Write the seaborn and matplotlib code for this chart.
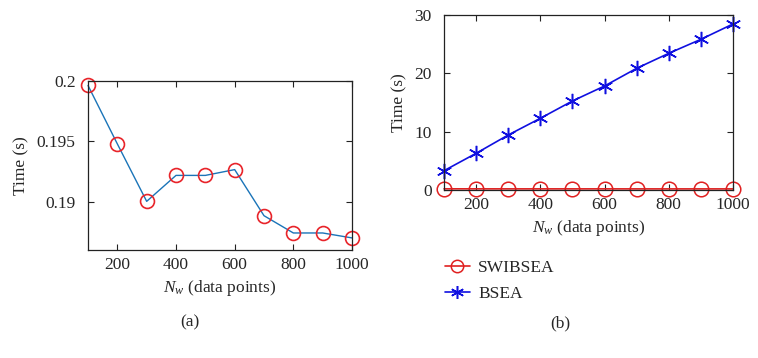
import matplotlib
matplotlib.use("Agg")
import matplotlib.pyplot as plt
import seaborn as sns
import numpy as np
import pandas as pd

n_w = [100, 200, 300, 400, 500, 600, 700, 800, 900, 1000]
time_a = [0.19963, 0.19479, 0.19003, 0.19218, 0.19218, 0.19266, 0.18884, 0.18741, 0.18741, 0.18700]
swibsea = [0.19963, 0.19479, 0.19003, 0.19218, 0.19218, 0.19266, 0.18884, 0.18741, 0.18741, 0.18700]
bsea = [3.31, 6.29, 9.43, 12.29, 15.26, 17.83, 20.86, 23.43, 25.83, 28.46]
xticks = [200, 400, 600, 800, 1000]
yticks_a = [0.19, 0.195, 0.2]
ytick_labels_a = ["0.19", "0.195", "0.2"]
yticks_b = [0, 10, 20, 30]

sns.set_style("ticks")
plt.rcParams['font.family'] = ['Liberation Serif', 'DejaVu Serif']
plt.rcParams['mathtext.fontset'] = 'custom'
plt.rcParams['mathtext.it'] = 'Liberation Serif:italic'
plt.rcParams['mathtext.rm'] = 'Liberation Serif'
FS = 12.5

fig = plt.figure(figsize=(7.58, 3.58), dpi=100)
ax1 = fig.add_axes([0.1161, 0.3017, 0.4644 - 0.1161, 0.7737 - 0.3017])
ax2 = fig.add_axes([0.5858, 0.4693, 0.967 - 0.5858, 0.9581 - 0.4693])

red = '#e8242a'
df_a = pd.DataFrame({'x': n_w, 'y': time_a})
sns.lineplot(data=df_a, x='x', y='y', ax=ax1, color='#1a74b8', lw=1.0,
             marker='o', markersize=10, markerfacecolor='none',
             markeredgecolor=red, markeredgewidth=1.2)
for l in ax1.lines:
    l.set_clip_on(False)
ax1.set_xlim(100, 1000)
ax1.set_ylim(0.186, 0.2)
ax1.set_xticks(xticks)
ax1.set_yticks(yticks_a)
ax1.set_yticklabels(ytick_labels_a)

df_b = pd.DataFrame({'x': n_w + n_w, 'y': swibsea + bsea,
                     'method': ['SWIBSEA'] * len(n_w) + ['BSEA'] * len(n_w)})
sns.lineplot(data=df_b[df_b.method == 'SWIBSEA'], x='x', y='y', ax=ax2,
             color='#e02020', lw=1.2, marker='o', markersize=10.5,
             markerfacecolor='none', markeredgecolor='#e02020',
             markeredgewidth=1.1, label='SWIBSEA')
sns.lineplot(data=df_b[df_b.method == 'BSEA'], x='x', y='y', ax=ax2,
             color='#1010e0', lw=1.2, marker=(6, 2, 0), markersize=11,
             markeredgecolor='#1010e0', markeredgewidth=1.1, label='BSEA')
for l in ax2.lines:
    l.set_clip_on(False)
ax2.set_xlim(100, 1000)
ax2.set_ylim(0, 30)
ax2.set_xticks(xticks)
ax2.set_yticks(yticks_b)

for ax in (ax1, ax2):
    ax.tick_params(direction='in', top=True, right=True, length=4, width=0.8,
                   labelsize=FS, color='#222222')
    ax.tick_params(axis='x', pad=5)
    ax.tick_params(axis='y', pad=9)
    for s in ax.spines.values():
        s.set_visible(True)
        s.set_linewidth(0.9)
        s.set_color('#222222')
    ax.set_xlabel(r'$N_w$ (data points)', fontsize=FS, labelpad=4)
    ax.set_ylabel('Time (s)', fontsize=FS, labelpad=5)

leg = ax2.legend(loc='upper left', bbox_to_anchor=(-0.05, -0.31), frameon=False,
                 fontsize=FS, handlelength=1.4, handletextpad=0.5,
                 labelspacing=0.55, markerscale=0.85)

fig.text(190 / 758, 1 - 322 / 358, '(a)', ha='center', va='center', fontsize=FS)
fig.text(560 / 758, 1 - 323 / 358, '(b)', ha='center', va='center', fontsize=FS)

fig.savefig('out.png', dpi=100, facecolor='white')
